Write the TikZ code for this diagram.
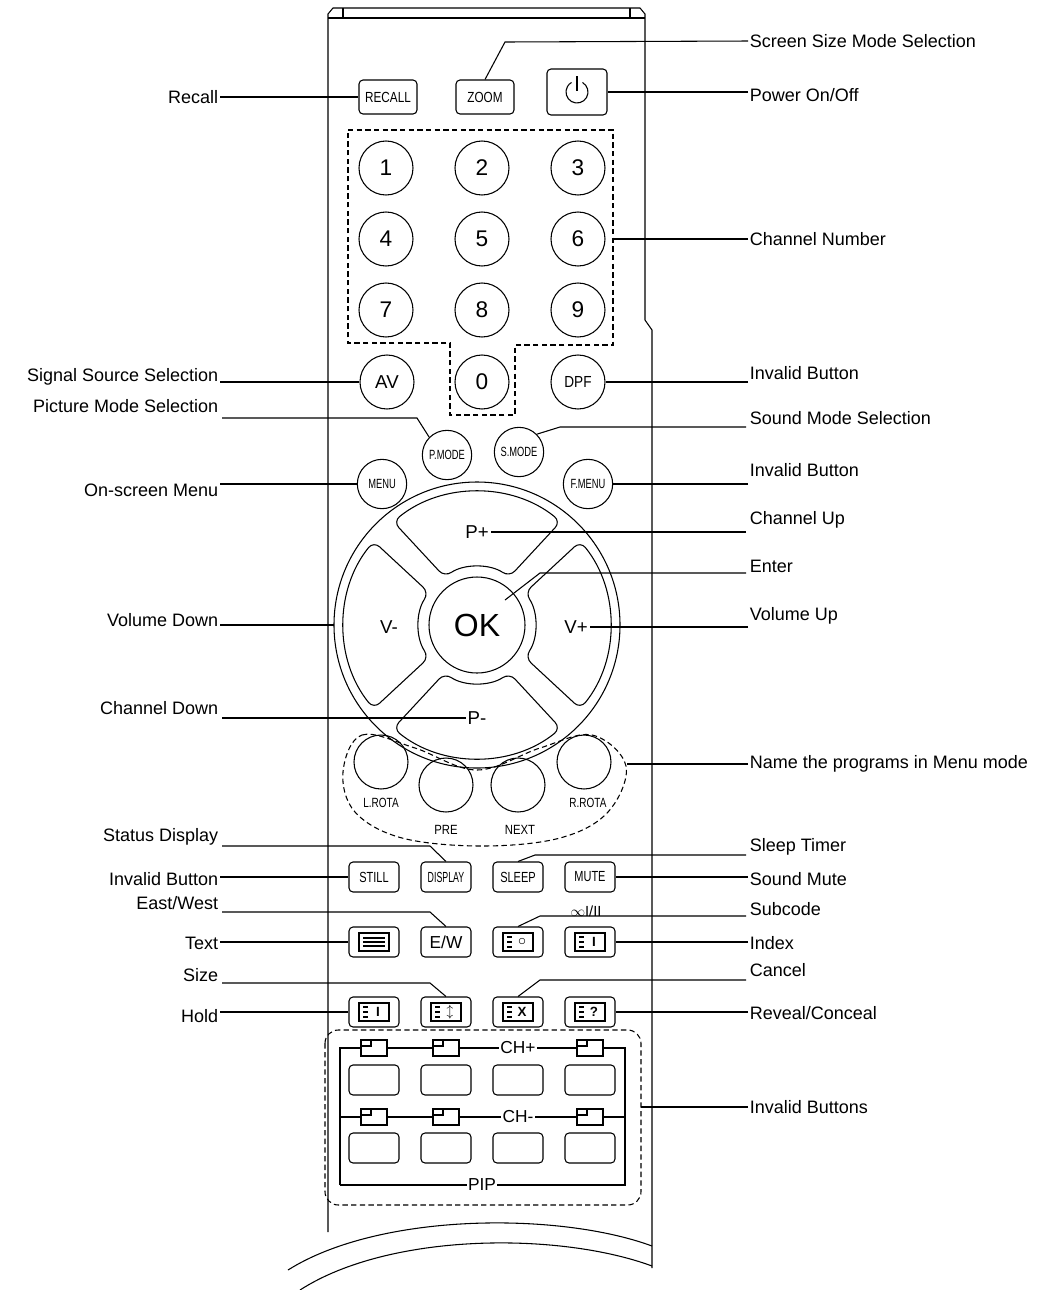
\documentclass[tikz,border=0pt]{standalone}
\usepackage{fontspec}
\setmainfont{Liberation Sans}
\usetikzlibrary{calc}

\tikzset{
  lbl/.style={font=\fontsize{13.5}{15}\selectfont,inner sep=1pt},
  rbtn/.style={draw,thick,rounded corners=3pt,minimum width=37.5pt,minimum height=22.5pt,
    font=\fontsize{11}{12}\selectfont,inner sep=0pt},
  cbtn/.style={draw,thick,circle,minimum size=40.5pt,inner sep=0pt,font=\fontsize{17}{18}\selectfont},
  sbtn/.style={draw,thick,circle,minimum size=37pt,inner sep=0pt,font=\fontsize{10}{11}\selectfont},
  pbtn/.style={draw,thick,rounded corners=3pt,minimum width=37.5pt,minimum height=22.5pt},
  tiny/.style={font=\fontsize{10}{11}\selectfont,inner sep=0pt},
  dsh/.style={thick,dash pattern=on 4pt off 2.5pt},
}
\newcommand{\ttx}[2]{%
  \draw[thick] ($(#1)+(-15,-9)$) rectangle ($(#1)+(15,9)$);
  \foreach \dy in {-5,0,5} \draw ($(#1)+(-11,\dy)$) -- ++(5,0);
  \node[font=\bfseries\fontsize{10}{10}\selectfont,inner sep=0pt] at ($(#1)+(4,0)$) {#2};}
\newcommand{\pipicon}[1]{%
  \draw[thick,fill=white] ($(#1)+(-13,-8)$) rectangle ($(#1)+(13,8)$);
  \draw ($(#1)+(-13,-2)$) -- ++(10,0) -- ++(0,-6);}

\begin{document}
\begin{tikzpicture}[x=0.75pt,y=-0.75pt,line width=0.8pt]
  \useasboundingbox (0,0) rectangle (1062,1290);
  % remote body
  \draw[thick] (328,1232) -- (328,14) -- (333,8) -- (640,8) -- (645,14) -- (645,320)
    -- (652,330) -- (652,1268);
  \draw (328,18) -- (645,18);
  \draw (343,8) -- (343,18) (630,8) -- (630,18);
  \draw[thick] (288,1270) .. controls (380,1212) and (560,1212) .. (652,1246);
  \draw[thick] (300,1290) .. controls (390,1232) and (560,1232) .. (652,1266);

  % top row
  \node[rbtn,minimum width=43.5pt,minimum height=25.5pt] (recall) at (388,97) {\scalebox{0.8}[1]{RECALL}};
  \node[rbtn,minimum width=43.5pt,minimum height=25.5pt] (zoom) at (485,97) {\scalebox{0.8}[1]{ZOOM}};
  \node[rbtn,minimum width=45pt,minimum height=34.5pt] (power) at (577,92) {};
  \draw[thick] ($(power)+(-60:11)$) arc (-60:240:11);
  \draw[thick] ($(power)+(0,-16)$) -- ($(power)+(0,-1)$);

  % digits
  \foreach \n/\x/\y in {1/386/168,2/482/168,3/578/168,4/386/239,5/482/239,6/578/239,
      7/386/310,8/482/310,9/578/310,0/482/382}
    \node[cbtn] (d\n) at (\x,\y) {\n};
  \draw[dsh] (348,130) -- (613,130) -- (613,345) -- (515,345) -- (515,415)
    -- (450,415) -- (450,343) -- (348,343) -- cycle;
  \node[cbtn,font=\fontsize{14}{15}\selectfont] (av) at (387,382) {AV};
  \node[cbtn,font=\fontsize{12}{13}\selectfont] (dpf) at (578,382) {\scalebox{0.85}[1]{DPF}};
  \node[sbtn] (pmode) at (447,455) {\scalebox{0.7}[1]{P.MODE}};
  \node[sbtn] (smode) at (519,452) {\scalebox{0.7}[1]{S.MODE}};
  \node[sbtn] (menu) at (382,484) {\scalebox{0.7}[1]{MENU}};
  \node[sbtn] (fmenu) at (588,484) {\scalebox{0.7}[1]{F.MENU}};

  % navigation ring
  \coordinate (ring) at (477,625);
  \draw[thick] (ring) circle (143);
  \foreach \c in {0,90,180,270}
    \draw[thick,rounded corners=6pt] ($(ring)+(\c-39:133)$) arc (\c-39:\c+39:133)
      -- ($(ring)+(\c+34:58)$) arc (\c+34:\c-34:58) -- cycle;
  \node[draw,thick,circle,minimum size=72pt,inner sep=0pt,font=\fontsize{24}{26}\selectfont] (ok) at (ring) {OK};
  \node[lbl,font=\fontsize{14}{15}\selectfont] (pup) at (477,532) {P+};
  \node[lbl,font=\fontsize{14}{15}\selectfont] (pdn) at (477,718) {P-};
  \node[lbl,font=\fontsize{14}{15}\selectfont] (vdn) at (389,627) {V-};
  \node[lbl,font=\fontsize{14}{15}\selectfont] (vup) at (576,627) {V+};

  % program naming group
  \foreach \nm/\x/\y in {lrota/381/762,pre/446/785,next/518/785,rrota/584/762}
    \node[draw,thick,circle,minimum size=40.5pt] (\nm) at (\x,\y) {};
  \node[tiny] at (381,803) {\scalebox{0.75}[1]{L.ROTA}};
  \node[tiny] at (588,803) {\scalebox{0.75}[1]{R.ROTA}};
  \node[tiny] at (446,830) {\scalebox{0.85}[1]{PRE}};
  \node[tiny] at (520,830) {\scalebox{0.85}[1]{NEXT}};
  \draw[dsh] plot[smooth cycle,tension=0.6] coordinates {(343,772) (362,735) (415,748)
    (477,770) (540,748) (592,735) (626,766) (608,812) (560,838) (482,846) (402,838) (355,812)};

  % rectangular buttons
  \node[rbtn] (still) at (374,877) {\scalebox{0.75}[1]{STILL}};
  \node[rbtn] (display) at (446,877) {\scalebox{0.6}[1]{DISPLAY}};
  \node[rbtn] (sleep) at (518,877) {\scalebox{0.75}[1]{SLEEP}};
  \node[rbtn] (mute) at (590,877) {\scalebox{0.75}[1]{MUTE}};
  \node[rbtn] (text) at (374,942) {};
  \node[rbtn,font=\fontsize{13}{14}\selectfont] (ew) at (446,942) {E/W};
  \node[rbtn] (subc) at (518,942) {};
  \node[rbtn] (index) at (590,942) {};
  \node[tiny,font=\fontsize{11}{12}\selectfont] at (586,911) {$\infty$I/II};
  \node[rbtn] (hold) at (374,1012) {};
  \node[rbtn] (size) at (446,1012) {};
  \node[rbtn] (cancel) at (518,1012) {};
  \node[rbtn] (reveal) at (590,1012) {};
  \draw[thick] ($(text)+(-15,-9)$) rectangle ($(text)+(15,9)$);
  \foreach \dy in {-4,0,4} \draw ($(text)+(-11,\dy)$) -- ++(22,0);
  \ttx{subc}{\large$\circ$}
  \ttx{index}{I}
  \ttx{hold}{I}
  \ttx{size}{$\updownarrow$}
  \ttx{cancel}{X}
  \ttx{reveal}{?}

  % PIP block
  \draw[dsh,rounded corners=10pt] (325,1030) rectangle (641,1205);
  \draw (340,1185) -- (340,1048) -- (625,1048) -- (625,1185) -- (340,1185);
  \draw (340,1117) -- (625,1117);
  \node[fill=white,lbl,font=\fontsize{13}{14}\selectfont] (pip) at (482,1185) {PIP};
  \node[fill=white,lbl,font=\fontsize{13}{14}\selectfont] (chup) at (518,1048) {CH+};
  \node[fill=white,lbl,font=\fontsize{13}{14}\selectfont] (chdn) at (518,1117) {CH-};
  \foreach \x in {374,446,590} { \pipicon{\x,1048} \pipicon{\x,1117} }
  \foreach \x/\nm in {374/pa,446/pb,518/pc,590/pd} {
    \node[pbtn] (\nm1) at (\x,1080) {};
    \node[pbtn] (\nm2) at (\x,1148) {};
  }

  % left labels
  \node[lbl,anchor=east] (lrecall) at (220,97) {Recall};
  \node[lbl,anchor=east] (lsig) at (220,377) {Signal Source Selection};
  \node[lbl,anchor=east] (lpic) at (220,406) {Picture Mode Selection};
  \node[lbl,anchor=east] (lmenu) at (220,490) {On-screen Menu};
  \node[lbl,anchor=east] (lvdn) at (220,620) {Volume Down};
  \node[lbl,anchor=east] (lpdn) at (220,708) {Channel Down};
  \node[lbl,anchor=east] (lstat) at (220,837) {Status Display};
  \node[lbl,anchor=east] (linv) at (220,879) {Invalid Button};
  \node[lbl,anchor=east] (lew) at (220,903) {East/West};
  \node[lbl,anchor=east] (ltext) at (220,943) {Text};
  \node[lbl,anchor=east] (lsize) at (220,975) {Size};
  \node[lbl,anchor=east] (lhold) at (220,1016) {Hold};
  % right labels
  \node[lbl,anchor=west] (rzoom) at (748,41) {Screen Size Mode Selection};
  \node[lbl,anchor=west] (rpow) at (748,95) {Power On/Off};
  \node[lbl,anchor=west] (rnum) at (748,239) {Channel Number};
  \node[lbl,anchor=west] (rdpf) at (748,373) {Invalid Button};
  \node[lbl,anchor=west] (rsnd) at (748,418) {Sound Mode Selection};
  \node[lbl,anchor=west] (rfm) at (748,470) {Invalid Button};
  \node[lbl,anchor=west] (rpup) at (748,520) {Channel Up};
  \node[lbl,anchor=west] (rok) at (748,566) {Enter};
  \node[lbl,anchor=west] (rvup) at (748,616) {Volume Up};
  \node[lbl,anchor=west] (rname) at (748,764) {Name the programs in Menu mode};
  \node[lbl,anchor=west] (rslp) at (748,847) {Sleep Timer};
  \node[lbl,anchor=west] (rmute) at (748,879) {Sound Mute};
  \node[lbl,anchor=west] (rsub) at (748,909) {Subcode};
  \node[lbl,anchor=west] (ridx) at (748,943) {Index};
  \node[lbl,anchor=west] (rcan) at (748,970) {Cancel};
  \node[lbl,anchor=west] (rrev) at (748,1013) {Reveal/Conceal};
  \node[lbl,anchor=west] (rpip) at (748,1107) {Invalid Buttons};

  % leaders, left
  \draw (lrecall.east) -- (recall.west);
  \draw (lsig.east |- av) -- (av.west);
  \draw (222,418) -- (417,418) -- (pmode.north west);
  \draw (lmenu.east |- menu) -- (menu.west);
  \draw (lvdn.east |- ring) -- (334,625);
  \draw (222,718) -- (pdn.west);
  \draw (222,846) -- (430,846) -- (display.north);
  \draw (linv.east |- still) -- (still.west);
  \draw (222,912) -- (430,912) -- (ew.north);
  \draw (ltext.east |- text) -- (text.west);
  \draw (222,983) -- (430,983) -- (size.north);
  \draw (lhold.east |- hold) -- (hold.west);
  % leaders, right
  \draw (rzoom.west) -- (505,42) -- (zoom.north);
  \draw (rpow.west |- power) -- (power.east);
  \draw (rnum.west) -- (613,239);
  \draw (rdpf.west |- dpf) -- (dpf.east);
  \draw (746,427) -- (560,427) -- (smode.north east);
  \draw (rfm.west |- fmenu) -- (fmenu.east);
  \draw (746,532) -- (pup.east);
  \draw (746,573) -- (540,573) -- (505,600);
  \draw (rvup.west |- vup) -- (vup.east);
  \draw (rname.west) -- (627,764);
  \draw (746,855) -- (535,855) -- (sleep.north);
  \draw (rmute.west |- mute) -- (mute.east);
  \draw (746,916) -- (540,916) -- (subc.north);
  \draw (ridx.west |- index) -- (index.east);
  \draw (746,980) -- (540,980) -- (cancel.north);
  \draw (rrev.west |- reveal) -- (reveal.east);
  \draw (rpip.west) -- (641,1107);
\end{tikzpicture}
\end{document}
